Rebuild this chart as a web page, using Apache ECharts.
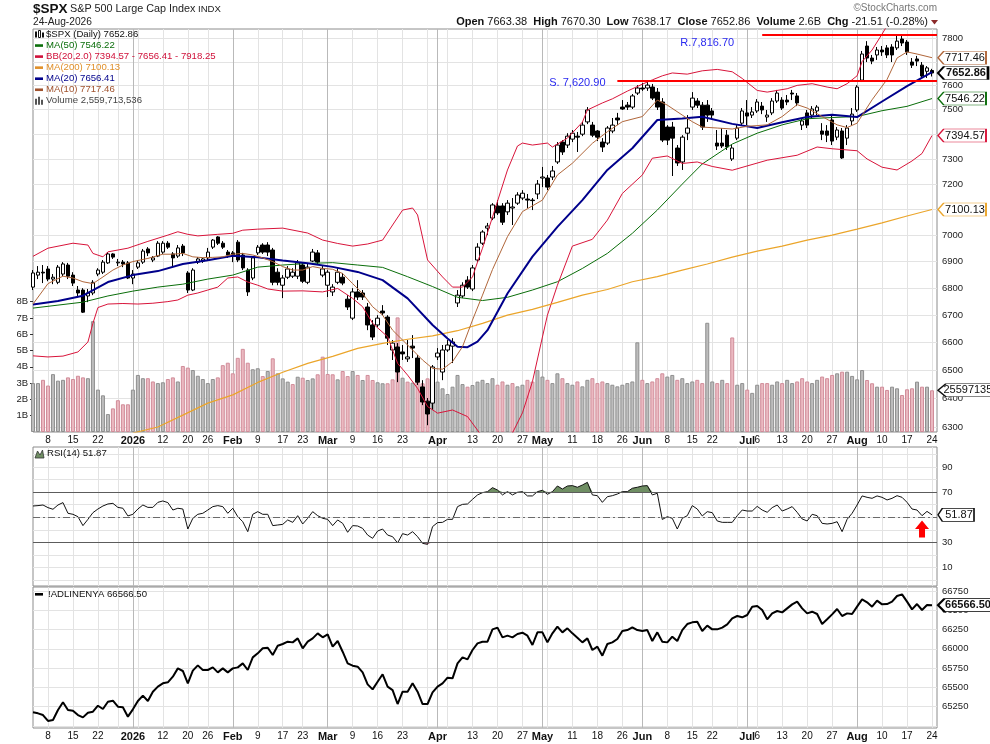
<!DOCTYPE html>
<html>
<head>
<meta charset="utf-8">
<script src="https://cdn.jsdelivr.net/npm/echarts@6.0.0/dist/echarts.min.js"></script>
<style>
html,body{margin:0;padding:0;background:#fff;}
#chart{width:990px;height:744px;}
</style>
</head>
<body>
<div id="chart"></div>
<script>
const FF = '"Liberation Sans", Arial, Helvetica, sans-serif';

// ---- categories: trading days shown on the chart ----
const tradingDays = [
  ['2025-12', [3,4,5,8,9,10,11,12,15,16,17,18,19,22,23,24,26,29,30,31]],
  ['2026-01', [2,5,6,7,8,9,12,13,14,15,16,20,21,22,23,26,27,28,29,30]],
  ['2026-02', [2,3,4,5,6,9,10,11,12,13,17,18,19,20,23,24,25,26,27]],
  ['2026-03', [2,3,4,5,6,9,10,11,12,13,16,17,18,19,20,23,24,25,26,27,30,31]],
  ['2026-04', [1,2,6,7,8,9,10,13,14,15,16,17,20,21,22,23,24,27,28,29,30]],
  ['2026-05', [1,4,5,6,7,8,11,12,13,14,15,18,19,20,21,22,26,27,28,29]],
  ['2026-06', [1,2,3,4,5,8,9,10,11,12,15,16,17,18,22,23,24,25,26,29,30]],
  ['2026-07', [1,2,6,7,8,9,10,13,14,15,16,17,20,21,22,23,24,27,28,29,30,31]],
  ['2026-08', [3,4,5,6,7,10,11,12,13,14,17,18,19,20,21,24]]
];
// dates that carry a label on the date axis
const labelDates = ['2025-12-08','2025-12-15','2025-12-22','2026-01-02','2026-01-12','2026-01-20','2026-01-26',
  '2026-02-02','2026-02-09','2026-02-17','2026-02-23','2026-03-02','2026-03-09','2026-03-16','2026-03-23',
  '2026-04-01','2026-04-13','2026-04-20','2026-04-27','2026-05-01','2026-05-11','2026-05-18','2026-05-26',
  '2026-06-01','2026-06-08','2026-06-15','2026-06-22','2026-07-01','2026-07-06','2026-07-13','2026-07-20',
  '2026-07-27','2026-08-03','2026-08-10','2026-08-17','2026-08-24'];
const monthAbbr = ['Jan','Feb','Mar','Apr','May','Jun','Jul','Aug','Sep','Oct','Nov','Dec'];

// ---- tick labels ----
const priceTicks = [6300,6400,6500,6600,6700,6800,6900,7000,7100,7200,7300,7400,7500,7600,7700,7800];
const volumeTicksB = [1,2,3,4,5,6,7,8];
const rsiLabelTicks = [10,30,70,90];
const rsiGridTicks = [0,10,20,30,40,50,60,70,80,90,100];
const adLabelTicks = [65250,65500,65750,66000,66250,66500,66750];
const adGridTicks = [65000,65250,65500,65750,66000,66250,66500,66750];

// ---- $SPX daily OHLC ----
const opens = [
6804,6849,6860,6872,6834,6822,6853,6887,6849,6793,
6793,6771,6782,6853,6860,6895,6929,6895,6898,6895,
6838,6879,6898,6948,6906,6921,6936,6970,6929,6921,
6959,6857,6793,6898,6902,6914,6955,6994,6970,6936,
6933,6974,6925,6868,6838,6933,6963,6963,6944,6860,
6811,6841,6845,6845,6887,6822,6902,6933,6849,6811,
6786,6822,6841,6759,6689,6786,6782,6730,6664,6664,
6715,6693,6573,6584,6566,6541,6587,6544,6441,6391,
6384,6548,6494,6573,6587,6745,6771,6830,6797,6906,
6970,7028,7067,7114,7114,7091,7106,7125,7145,7141,
7137,7161,7224,7224,7228,7288,7368,7356,7380,7392,
7400,7450,7437,7413,7368,7364,7413,7466,7511,7519,
7511,7569,7590,7590,7594,7573,7532,7429,7429,7344,
7288,7404,7511,7536,7519,7519,7495,7364,7364,7396,
7300,7384,7445,7487,7478,7495,7515,7470,7487,7536,
7540,7540,7569,7557,7437,7487,7478,7495,7413,7413,
7458,7388,7413,7384,7454,7499,7623,7767,7716,7729,
7750,7759,7763,7759,7797,7784,7699,7712,7686,7660,
7663.38];
const closes = [
6857,6860,6857,6834,6841,6879,6891,6845,6819,6782,
6711,6782,6822,6868,6898,6929,6917,6898,6891,6838,
6853,6895,6940,6933,6914,6970,6970,6955,6914,6952,
6933,6793,6868,6910,6910,6936,6982,6970,6955,6925,
6921,6906,6876,6786,6914,6955,6936,6936,6822,6822,
6838,6872,6860,6895,6826,6879,6936,6898,6872,6860,
6804,6860,6819,6730,6786,6767,6767,6664,6620,6689,
6708,6616,6598,6494,6559,6548,6580,6458,6388,6346,
6512,6562,6573,6591,6602,6774,6811,6804,6876,6955,
7013,7036,7118,7087,7051,7125,7110,7157,7164,7137,
7135,7200,7228,7188,7252,7356,7328,7392,7404,7388,
7437,7499,7396,7388,7348,7425,7437,7458,7503,7511,
7557,7590,7586,7602,7548,7511,7376,7376,7384,7284,
7388,7425,7548,7519,7429,7478,7478,7352,7352,7348,
7344,7425,7495,7474,7491,7532,7499,7478,7536,7569,
7507,7532,7565,7528,7454,7437,7503,7511,7400,7396,
7372,7417,7304,7425,7482,7594,7733,7716,7703,7750,
7742,7729,7729,7788,7780,7742,7686,7703,7640,7674.37,
7652.86];
const highs = [
6868,6883,6887,6883,6853,6887,6898,6895,6860,6808,
6800,6797,6830,6875,6906,6936,6932,6910,6906,6902,
6868,6906,6948,6955,6921,6978,6978,6978,6936,6963,
6967,6864,6875,6917,6914,6952,6986,6997,6978,6944,
6940,6982,6933,6875,6921,6963,6970,6974,6952,6875,
6849,6883,6875,6906,6898,6891,6948,6944,6883,6868,
6815,6875,6857,6774,6800,6830,6793,6745,6682,6700,
6737,6700,6609,6598,6591,6609,6627,6555,6465,6402,
6519,6580,6591,6609,6616,6793,6822,6845,6887,6970,
7020,7048,7125,7137,7125,7137,7145,7168,7176,7161,
7145,7216,7268,7236,7272,7368,7376,7404,7417,7409,
7450,7511,7450,7417,7384,7433,7466,7487,7540,7532,
7565,7602,7611,7615,7607,7590,7548,7437,7450,7356,
7396,7478,7573,7548,7532,7540,7507,7417,7425,7417,
7356,7437,7507,7540,7511,7544,7532,7499,7548,7582,
7552,7561,7582,7569,7466,7499,7515,7519,7445,7437,
7478,7429,7425,7437,7507,7602,7746,7788,7729,7763,
7767,7771,7775,7810,7814,7793,7716,7725,7699,7682,
7670.30];
const lows = [
6793,6834,6819,6826,6815,6815,6845,6834,6808,6767,
6708,6748,6774,6845,6853,6891,6910,6883,6879,6834,
6815,6872,6891,6921,6898,6917,6929,6948,6883,6914,
6921,6782,6789,6891,6895,6906,6948,6963,6948,6914,
6898,6898,6868,6771,6830,6925,6929,6921,6811,6811,
6763,6834,6838,6834,6819,6815,6898,6887,6841,6767,
6771,6815,6811,6719,6682,6756,6756,6645,6609,6656,
6700,6591,6537,6458,6537,6530,6544,6448,6377,6307,
6360,6537,6465,6566,6526,6730,6763,6797,6789,6898,
6963,7001,7059,7079,7040,7079,7040,7118,7137,7106,
7098,7141,7188,7176,7216,7280,7316,7344,7368,7328,
7392,7441,7388,7372,7328,7356,7404,7437,7499,7499,
7503,7561,7578,7578,7540,7499,7368,7356,7232,7272,
7256,7376,7499,7507,7417,7450,7466,7336,7344,7336,
7292,7376,7437,7437,7466,7487,7482,7450,7478,7528,
7499,7519,7540,7515,7417,7425,7466,7478,7376,7368,
7356,7376,7300,7356,7437,7491,7615,7699,7690,7708,
7725,7716,7699,7750,7767,7729,7674,7682,7632,7632,
7638.17];
// volume, billions of shares
const volumesB = [
3.0,3.0,3.2,2.85,3.55,3.15,3.2,3.35,3.25,3.45,
3.35,3.3,6.8,2.6,2.25,1.1,1.45,1.95,1.7,1.7,
2.6,3.5,3.3,3.3,3.1,3.0,3.05,3.25,3.35,3.1,
4.05,3.95,3.8,3.45,3.25,3.0,3.25,3.35,4.1,4.25,
3.6,4.55,5.1,4.25,3.85,3.91,3.43,3.74,4.52,3.6,
3.29,3.09,2.94,3.39,3.33,3.19,3.29,3.54,4.62,3.56,
3.54,3.23,3.74,3.43,3.74,3.5,3.19,3.5,3.19,3.05,
2.99,2.99,3.23,7.03,3.33,3.09,3.03,3.19,2.99,3.29,
3.85,3.09,2.68,2.33,2.78,3.5,2.94,2.78,2.88,3.09,
3.2,3.0,3.3,2.9,3.1,2.9,3.0,2.8,2.9,3.2,
3.1,3.8,3.4,3.2,3.0,3.6,3.3,3.0,2.9,3.1,
2.8,3.2,3.3,3.0,3.1,3.0,2.9,2.8,2.9,3.0,
3.1,5.5,3.2,3.0,3.1,3.3,3.6,3.4,3.5,3.2,
3.3,3.0,3.1,3.2,3.0,6.7,3.1,3.0,3.2,3.0,
5.8,2.9,3.0,2.6,2.4,2.9,3.0,3.0,2.9,3.1,
3.0,3.2,3.0,3.1,3.3,3.1,3.0,3.2,3.4,3.3,
3.5,3.6,3.7,3.7,3.44,3.23,3.8,3.19,2.99,2.78,
2.78,2.58,2.78,2.68,2.27,2.62,2.68,3.09,2.78,2.78,
2.559713536];

// ---- overlays, read as [bar index, value] ----
const ma10 = [[0,6741],[3,6817],[6,6845],[8,6838],[10,6824],[12,6817],[14,6842],[16,6868],[18,6887],[20,6900],[23,6912],[26,6928],[28,6928],[30,6931],[32,6918],[34,6915],[36,6916],[38,6918],[40,6928],[42,6931],[44,6925],[46,6914],[48,6900],[50,6881],[52,6868],[54,6868],[56,6881],[58,6874],[60,6871],[62,6855],[64,6817],[66,6780],[68,6731],[70,6700],[72,6645],[74,6609],[76,6573],[78,6537],[80,6507],[82,6504],[84,6531],[86,6585],[88,6682],[90,6774],[92,6870],[95,6995],[98,7092],[102,7137],[105,7236],[108,7283],[112,7363],[115,7410],[118,7451],[122,7472],[125,7540],[127,7519],[130,7478],[132,7451],[134,7429],[137,7425],[140,7421],[143,7432],[147,7438],[150,7472],[153,7521],[155,7507],[158,7472],[161,7438],[163,7427],[165,7445],[168,7541],[171,7626],[173,7716],[175,7742],[177,7733],[180,7717.46]];
const ma20 = [[0,6739],[5,6752],[10,6772],[15,6823],[20,6849],[25,6864],[30,6891],[35,6905],[40,6922],[45,6916],[50,6904],[55,6894],[60,6880],[65,6861],[70,6830],[75,6762],[80,6664],[83,6615],[85,6585],[87,6583],[89,6603],[91,6645],[95,6780],[100,6919],[105,7033],[110,7137],[115,7256],[120,7343],[125,7458],[130,7464],[134,7471],[140,7442],[145,7425],[150,7449],[155,7470],[160,7479],[165,7470],[170,7534],[175,7598],[180,7656.41]];
const ma50 = [[0,6726],[5,6737],[10,6748],[15,6771],[20,6789],[25,6804],[30,6815],[35,6834],[40,6849],[45,6879],[50,6887],[55,6893],[60,6896],[65,6887],[70,6878],[75,6843],[80,6806],[85,6766],[90,6754],[95,6766],[100,6793],[105,6824],[110,6874],[115,6931],[120,7008],[125,7098],[130,7200],[134,7280],[140,7360],[145,7404],[150,7438],[155,7463],[160,7468],[165,7472],[170,7496],[175,7514],[180,7546.22]];
const ma200 = [[20,6280],[25,6301],[30,6342],[35,6384],[40,6413],[45,6457],[50,6493],[55,6525],[60,6550],[65,6579],[70,6597],[75,6612],[80,6624],[85,6643],[90,6670],[95,6700],[100,6721],[105,6747],[110,6774],[115,6795],[120,6824],[125,6843],[130,6868],[135,6891],[140,6917],[145,6940],[150,6959],[155,6982],[160,7001],[165,7024],[170,7048],[175,7075],[180,7100.13]];
const bbUpper = [[0,6920],[3,6951],[8,6970],[11,6963],[12,6931],[14,6918],[15,6937],[19,6951],[23,6977],[27,7001],[29,7014],[31,7004],[33,6998],[37,7004],[40,7008],[42,7020],[45,7024],[50,7028],[55,7009],[58,6982],[61,6969],[64,6959],[67,6967],[70,6982],[72,7040],[74,7098],[76,7106],[77,7079],[79,6906],[82,6842],[84,6804],[86,6804],[88,6842],[89,6898],[90,6951],[92,7071],[95,7256],[97,7352],[98,7364],[100,7356],[103,7364],[104,7348],[107,7384],[110,7449],[111,7499],[114,7528],[116,7545],[119,7577],[122,7606],[124,7624],[126,7641],[128,7653],[131,7648],[134,7662],[137,7668],[140,7658],[142,7630],[145,7580],[147,7573],[151,7587],[153,7601],[156,7608],[159,7594],[161,7587],[163,7608],[165,7641],[166,7701],[168,7750],[170,7818],[172,7890],[175,7950],[178,7935],[180,7918.25]];
const bbLower = [[0,6552],[3,6548],[6,6551],[9,6566],[11,6602],[12,6670],[13,6728],[15,6741],[18,6743],[21,6741],[24,6744],[27,6750],[29,6756],[31,6774],[33,6782],[35,6793],[37,6804],[39,6838],[41,6842],[43,6823],[45,6811],[47,6797],[50,6789],[54,6790],[58,6786],[61,6799],[64,6762],[66,6731],[68,6670],[71,6621],[73,6525],[75,6483],[77,6436],[79,6372],[81,6349],[84,6360],[87,6337],[89,6290],[91,6240],[93,6200],[95,6230],[96,6280],[98,6350],[100,6460],[102,6620],[103,6700],[105,6811],[108,6959],[112,6985],[115,7059],[118,7163],[122,7236],[124,7303],[127,7312],[130,7282],[133,7288],[136,7270],[140,7255],[147,7295],[153,7315],[157,7348],[160,7341],[165,7333],[167,7300],[170,7267],[173,7256],[176,7292],[178,7322],[180,7394.57]];

// ---- support / resistance drawn on the chart ----
const support = {value: 7620.90, from: '2026-05-22', text: 'S. 7,620.90', textAt: '2026-05-12', textValue: 7610};
const resistance = {value: 7816.70, from: '2026-07-07', text: 'R.7,816.70', textAt: '2026-06-18', textValue: 7782};

// ---- RSI(14) ----
const rsi14 = [
58.9,59.2,59.7,57.6,56.3,59.7,61.6,53.1,52.3,50.4,
43.3,48.3,53.6,56.5,58.9,60.5,61.0,57.8,57.1,51.0,
52.3,56.5,59.7,57.8,57.8,61.8,62.9,61.6,55.7,57.1,
56.5,40.6,49.1,52.3,53.1,55.7,58.4,59.2,58.4,53.1,
57.1,50.4,46.4,38.5,52.3,54.4,52.3,52.3,43.3,43.8,
44.3,47.8,45.9,51.2,44.6,49.1,54.4,51.2,49.1,48.3,
43.3,47.8,45.1,38.0,43.3,43.0,41.1,35.8,33.2,39.0,
40.6,35.8,34.5,29.5,36.9,35.8,38.5,34.5,29.2,28.4,
42.5,45.7,45.9,48.3,48.3,58.4,60.2,60.5,64.2,67.7,
69.5,70.3,73.5,71.6,67.7,70.3,67.7,69.8,70.3,66.9,
66.9,70.3,71.4,68.2,70.3,74.8,72.4,74.8,75.1,73.8,
75.6,77.7,67.7,67.1,61.8,66.3,67.1,68.4,70.3,70.3,
73.0,73.8,74.8,75.1,67.7,69.0,48.2,50.4,49.1,40.6,
49.1,51.2,59.2,56.5,51.0,54.4,53.6,47.0,45.9,45.9,
45.9,51.2,55.7,54.9,54.9,58.6,55.7,53.9,57.6,59.7,
54.9,56.5,58.4,53.9,48.6,47.0,52.3,51.2,45.1,44.6,
45.1,46.4,38.5,48.3,53.1,59.7,66.9,65.8,65.0,66.9,
65.8,63.7,65.0,67.1,65.8,61.8,56.5,55.7,51.2,54.6,
51.87];
const rsiArrowAt = {date: '2026-08-20', value: 40.6};

// ---- NYSE advance-decline line ----
const adLine = [
65177,65164,65142,65065,65078,65207,65307,65207,65199,65142,
65112,65173,65186,65263,65220,65315,65328,65250,65242,65121,
65216,65324,65393,65324,65445,65510,65553,65566,65639,65747,
65713,65553,65717,65786,65726,65726,65760,65695,65747,65695,
65747,65760,65812,65726,65890,65942,66007,66015,65920,66041,
66063,66093,66084,66136,66007,66093,66136,66201,66150,66188,
66028,66102,65963,65812,65782,65769,65695,65540,65475,65574,
65670,65510,65466,65285,65445,65445,65553,65445,65285,65285,
65436,65510,65553,65626,65618,65812,65890,65864,65985,66071,
66093,66093,66253,66275,66149,66171,66149,66193,66210,66171,
66050,66214,66214,66084,66201,66288,66214,66266,66201,66145,
66084,66136,65985,66028,65912,66063,66084,66128,66231,66244,
66279,66244,66231,66244,66102,66214,66093,66084,66158,66102,
66244,66322,66344,66352,66231,66301,66253,66253,66275,66318,
66396,66426,66409,66439,66547,66556,66504,66383,66460,66491,
66473,66525,66577,66612,66525,66460,66482,66452,66322,66383,
66447,66517,66426,66460,66452,66547,66642,66603,66547,66625,
66577,66581,66612,66685,66707,66612,66512,66581,66504,66568,
66566.50];

// ================= build =================
const dates = [];
tradingDays.forEach(([ym, days]) => days.forEach(d => dates.push(ym + '-' + (d < 10 ? '0' : '') + d)));
const cats = dates.concat([' ']);           // one empty slot closes the right edge
const N = dates.length, L = N - 1;
const dow = s => new Date(s + 'T00:00:00Z').getUTCDay();
const weekStart = cats.map((d, i) => i > 0 && i < N && dow(d) <= dow(dates[i - 1]));
const monthStart = cats.map((d, i) => i > 0 && i < N && d.slice(0, 7) !== dates[i - 1].slice(0, 7));
const labelSet = new Set(labelDates);
const fmt2 = v => v.toFixed(2);
const lastOf = arr => arr[arr.length - 1][1];
const commas = n => String(n).replace(/\B(?=(\d{3})+(?!\d))/g, ',');

const C = {
  ma50: '#0a6e0a', bb: '#d8143a', ma200: '#eba52a', ma20: '#00008b', ma10: '#b0663a',
  leg50: '#0a6e0a', legBB: '#d0103a', leg200: '#e0902a', leg20: '#00008b', leg10: '#a0522d'
};

function dateAxisLabel(v) {
  if (!labelSet.has(v)) return '';
  const i = dates.indexOf(v);
  const [y, m, d] = v.split('-');
  if (monthStart[i]) return '{b|' + (m === '01' ? y : monthAbbr[+m - 1]) + '}';
  return String(+d);
}
function xAxisFor(grid, kind, withLabels) {
  return {
    type: 'category', gridIndex: grid, data: cats, boundaryGap: false,
    axisLine: {show: false}, axisTick: {show: false},
    axisLabel: withLabels ? {
      show: true, interval: (i, v) => labelSet.has(v), formatter: dateAxisLabel,
      fontSize: 10, color: '#111', margin: 3, fontFamily: FF,
      rich: {b: {fontSize: 11, fontWeight: 'bold', color: '#111', fontFamily: FF}}
    } : {show: false},
    splitLine: {
      show: true,
      interval: (i) => kind === 'week' ? !!weekStart[i] : !!monthStart[i],
      lineStyle: {color: kind === 'week' ? '#e3e3e3' : '#b9b9b9', width: 1}
    }
  };
}

const BOX = 'path://M0,6L6,0L50,0L50,12L6,12Z';
function endBox(coord, text, color, w, bold) {
  return {
    coord: coord, symbol: BOX, symbolSize: [w, 13], symbolOffset: [w / 2 + 6, 0],
    itemStyle: {color: '#fff', borderColor: color, borderWidth: bold ? 1.4 : 1},
    label: {show: true, position: 'inside', formatter: text, color: '#111', fontSize: 11,
            fontWeight: bold ? 'bold' : 'normal', fontFamily: FF, offset: [3, 0]}
  };
}
function overlay(name, data, color, width, boxW) {
  return {
    name, type: 'line', xAxisIndex: 0, yAxisIndex: 0, data, symbol: 'none', silent: true,
    lineStyle: {color, width}, z: 4, clip: true,
    markPoint: boxW ? {silent: true, animation: false, data: [endBox([L, lastOf(data)], fmt2(lastOf(data)), color, boxW, false)]} : undefined
  };
}

const candleData = opens.map((o, i) => [o, closes[i], lows[i], highs[i]]);
const volData = volumesB.map((v, i) => {
  const up = i === 0 ? closes[i] >= opens[i] : closes[i] >= closes[i - 1];
  return {value: v * 1e9, itemStyle: up
    ? {color: '#bdbdbd', borderColor: '#8f8f8f', borderWidth: 1}
    : {color: '#ebb9c1', borderColor: '#d08c99', borderWidth: 1}};
});
const rsiHi = rsi14.map(v => Math.max(v, 70));
const rsiLo = rsi14.map(v => Math.min(v, 30));

const chg = closes[L] - closes[L - 1];
const chgPct = chg / closes[L - 1] * 100;

const option = {
  animation: false,
  backgroundColor: '#fff',
  textStyle: {fontFamily: FF},
  grid: [
    {left: 33, top: 29, width: 904, height: 403, show: true, borderColor: '#8c8c8c', borderWidth: 1, backgroundColor: '#fff', containLabel: false, outerBoundsMode: 'none'},
    {left: 33, top: 447, width: 904, height: 139, show: true, borderColor: '#8c8c8c', borderWidth: 1, backgroundColor: '#fff', containLabel: false, outerBoundsMode: 'none'},
    {left: 33, top: 587, width: 904, height: 141, show: true, borderColor: '#8c8c8c', borderWidth: 1, backgroundColor: '#fff', containLabel: false, outerBoundsMode: 'none'}
  ],
  xAxis: [
    xAxisFor(0, 'week', true), xAxisFor(0, 'month', false),
    xAxisFor(1, 'week', false), xAxisFor(1, 'month', false),
    xAxisFor(2, 'week', true), xAxisFor(2, 'month', false)
  ],
  yAxis: [
    {type: 'log', logBase: 10, gridIndex: 0, position: 'right', min: 6283.6, max: 7840, scale: true,
     axisLine: {show: false}, axisTick: {show: false, customValues: priceTicks},
     axisLabel: {customValues: priceTicks, formatter: v => String(Math.round(v)), fontSize: 9.5, color: '#222', margin: 5, fontFamily: FF},
     splitLine: {show: true, lineStyle: {color: '#e3e3e3'}}},
    {type: 'value', gridIndex: 0, position: 'left', min: 0, max: 24.72e9,
     axisLine: {show: false}, axisTick: {show: true, length: 3, customValues: volumeTicksB.map(v => v * 1e9), lineStyle: {color: '#333'}},
     axisLabel: {customValues: volumeTicksB.map(v => v * 1e9), formatter: v => Math.round(v / 1e9) + 'B', fontSize: 9.5, color: '#222', margin: 5, fontFamily: FF},
     splitLine: {show: false}},
    {type: 'value', gridIndex: 1, position: 'right', min: -4.7, max: 105.8,
     axisLine: {show: false}, axisTick: {show: false, customValues: rsiGridTicks},
     axisLabel: {customValues: rsiLabelTicks, formatter: v => String(v), fontSize: 9.5, color: '#222', margin: 5, fontFamily: FF},
     splitLine: {show: true, lineStyle: {color: '#e3e3e3'}}},
    {type: 'value', gridIndex: 2, position: 'right', min: 64974, max: 66802,
     axisLine: {show: false}, axisTick: {show: false, customValues: adGridTicks},
     axisLabel: {customValues: adLabelTicks, formatter: v => String(v), fontSize: 9.5, color: '#222', margin: 5, fontFamily: FF},
     splitLine: {show: true, lineStyle: {color: '#e3e3e3'}}}
  ],
  series: [
    {name: 'Volume', type: 'bar', xAxisIndex: 0, yAxisIndex: 1, data: volData, barWidth: 4, z: 1, silent: true,
     markPoint: {silent: true, animation: false, data: [endBox([L, volumesB[L] * 1e9], String(Math.round(volumesB[L] * 1e9)), '#111', 66, false)]}},
    {name: '$SPX', type: 'candlestick', xAxisIndex: 0, yAxisIndex: 0, data: candleData, barWidth: 4, z: 3, silent: true,
     itemStyle: {color: '#fff', color0: '#000', borderColor: '#000', borderColor0: '#000', borderWidth: 1},
     markLine: {silent: true, animation: false, symbol: ['none', 'none'], label: {show: false},
       lineStyle: {color: '#ff0000', width: 2, type: 'solid'},
       data: [
         [{coord: [dates.indexOf(support.from), support.value]}, {coord: [N, support.value]}],
         [{coord: [dates.indexOf(resistance.from), resistance.value]}, {coord: [N, resistance.value]}]
       ]},
     markPoint: {silent: true, animation: false, data: [
       endBox([L, closes[L]], fmt2(closes[L]), '#000', 50, true),
       {coord: [dates.indexOf(support.textAt), support.textValue], symbolSize: 0,
        label: {show: true, position: 'inside', formatter: support.text, color: '#2a2af0', fontSize: 11, fontFamily: FF}},
       {coord: [dates.indexOf(resistance.textAt), resistance.textValue], symbolSize: 0,
        label: {show: true, position: 'inside', formatter: resistance.text, color: '#2a2af0', fontSize: 11, fontFamily: FF}}
     ]}},
    overlay('MA(50)', ma50, C.ma50, 1, 48),
    overlay('BB upper', bbUpper, C.bb, 1, 0),
    overlay('BB lower', bbLower, C.bb, 1, 48),
    overlay('MA(200)', ma200, C.ma200, 1.2, 48),
    overlay('MA(20)', ma20, C.ma20, 2, 0),
    overlay('MA(10)', ma10, C.ma10, 1, 48),
    {name: 'RSI hi', type: 'line', xAxisIndex: 2, yAxisIndex: 2, data: rsiHi, symbol: 'none', silent: true,
     lineStyle: {width: 0}, areaStyle: {origin: 70, color: '#6f8e63', opacity: 1}, z: 2},
    {name: 'RSI lo', type: 'line', xAxisIndex: 2, yAxisIndex: 2, data: rsiLo, symbol: 'none', silent: true,
     lineStyle: {width: 0}, areaStyle: {origin: 30, color: '#c98da0', opacity: 1}, z: 2},
    {name: 'RSI(14)', type: 'line', xAxisIndex: 2, yAxisIndex: 2, data: rsi14, symbol: 'none', silent: true,
     lineStyle: {color: '#111', width: 1}, z: 4,
     markLine: {silent: true, animation: false, symbol: ['none', 'none'], label: {show: false},
       data: [
         {yAxis: 70, lineStyle: {color: '#5c5c5c', width: 1, type: 'solid'}},
         {yAxis: 30, lineStyle: {color: '#5c5c5c', width: 1, type: 'solid'}},
         {yAxis: 50, lineStyle: {color: '#6a6a6a', width: 1, type: [7, 3, 2, 3]}}
       ]},
     markPoint: {silent: true, animation: false, data: [
       {coord: [dates.indexOf(rsiArrowAt.date), rsiArrowAt.value], symbol: 'path://M7,0L14,8L10,8L10,16L4,16L4,8L0,8Z',
        symbolSize: [14, 17], itemStyle: {color: '#ff0000'}, label: {show: false}},
       endBox([L, rsi14[L]], fmt2(rsi14[L]), '#111', 36, false)
     ]}},
    {name: '!ADLINENYA', type: 'line', xAxisIndex: 4, yAxisIndex: 3, data: adLine, symbol: 'none', silent: true,
     lineStyle: {color: '#000', width: 2}, z: 4,
     markPoint: {silent: true, animation: false, data: [endBox([L, adLine[L]], fmt2(adLine[L]), '#000', 54, true)]}}
  ],
  graphic: []
};

// ---- header & legends ----
const G = option.graphic;
const txt = (x, y, text, o) => G.push({type: 'text', silent: true, z: 100, style: Object.assign({x, y, text, fontFamily: FF, fontSize: 11, fill: '#111', verticalAlign: 'middle', align: 'left'}, o || {})});
txt(33, 9, '$SPX', {fontSize: 13.5, fontWeight: 'bold'});
txt(70, 9.5, 'S&P 500 Large Cap Index', {fontSize: 10.8, fill: '#222'});
txt(198, 9.5, 'INDX', {fontSize: 9.6, fill: '#222'});
txt(33, 22, '24-Aug-2026', {fontSize: 10.2, fill: '#222'});
txt(937, 8, '\u00a9StockCharts.com', {fontSize: 10, fill: '#777', align: 'right'});
txt(928, 22,
  '{b|Open} ' + fmt2(opens[L]) + '  {b|High} ' + fmt2(highs[L]) + '  {b|Low} ' + fmt2(lows[L]) +
  '  {b|Close} ' + fmt2(closes[L]) + '  {b|Volume} ' + volumesB[L].toFixed(1) + 'B  {b|Chg} ' +
  fmt2(chg) + ' (' + fmt2(chgPct) + '%)',
  {align: 'right', fontSize: 11, rich: {b: {fontWeight: 'bold', fontSize: 11, fontFamily: FF, fill: '#111'}}});
G.push({type: 'polygon', silent: true, z: 100, shape: {points: [[931, 20], [938, 20], [934.5, 24.5]]}, style: {fill: '#8b2a2a'}});

const legendRows = [
  {text: '$SPX (Daily) ' + fmt2(closes[L]), color: '#111', icon: 'candle'},
  {text: 'MA(50) ' + fmt2(lastOf(ma50)), color: C.leg50, icon: 'line'},
  {text: 'BB(20,2.0) ' + fmt2(lastOf(bbLower)) + ' - ' + fmt2(lastOf(ma20)) + ' - ' + fmt2(lastOf(bbUpper)), color: C.legBB, icon: 'line'},
  {text: 'MA(200) ' + fmt2(lastOf(ma200)), color: C.leg200, icon: 'line'},
  {text: 'MA(20) ' + fmt2(lastOf(ma20)), color: C.leg20, icon: 'line'},
  {text: 'MA(10) ' + fmt2(lastOf(ma10)), color: C.leg10, icon: 'line'},
  {text: 'Volume ' + commas(Math.round(volumesB[L] * 1e9)), color: '#444', icon: 'vol'}
];
legendRows.forEach((r, k) => {
  const y = 34.5 + k * 11.05;
  if (r.icon === 'line') {
    G.push({type: 'rect', silent: true, z: 100, shape: {x: 35, y: y - 1.3, width: 8, height: 2.6}, style: {fill: r.color}});
  } else if (r.icon === 'candle') {
    G.push({type: 'rect', silent: true, z: 100, shape: {x: 35, y: y - 3, width: 2, height: 6}, style: {fill: '#111'}});
    G.push({type: 'rect', silent: true, z: 100, shape: {x: 38.5, y: y - 4, width: 2, height: 7}, style: {fill: '#fff', stroke: '#111', lineWidth: 1}});
    G.push({type: 'rect', silent: true, z: 100, shape: {x: 42, y: y - 2, width: 2, height: 5}, style: {fill: '#111'}});
  } else {
    G.push({type: 'rect', silent: true, z: 100, shape: {x: 35, y: y - 2, width: 2, height: 6}, style: {fill: '#555'}});
    G.push({type: 'rect', silent: true, z: 100, shape: {x: 38, y: y - 4, width: 2, height: 8}, style: {fill: '#555'}});
    G.push({type: 'rect', silent: true, z: 100, shape: {x: 41, y: y - 1, width: 2, height: 5}, style: {fill: '#555'}});
  }
  txt(46, y, r.text, {fontSize: 9.6, fill: r.color});
});
// RSI legend
G.push({type: 'polygon', silent: true, z: 100, shape: {points: [[35, 458], [37.5, 451], [40, 455], [42.5, 450], [44, 458]]}, style: {fill: '#6f8e63', stroke: '#333', lineWidth: 0.8}});
txt(47, 453.5, 'RSI(14) ' + fmt2(rsi14[L]), {fontSize: 9.6, fill: '#111'});
// A/D legend
G.push({type: 'rect', silent: true, z: 100, shape: {x: 35, y: 593, width: 8, height: 2.6}, style: {fill: '#000'}});
txt(48, 594.5, '!ADLINENYA ' + fmt2(adLine[L]), {fontSize: 9.6, fill: '#111'});

const chart = echarts.init(document.getElementById('chart'));
chart.setOption(option);
</script>
</body>
</html>
